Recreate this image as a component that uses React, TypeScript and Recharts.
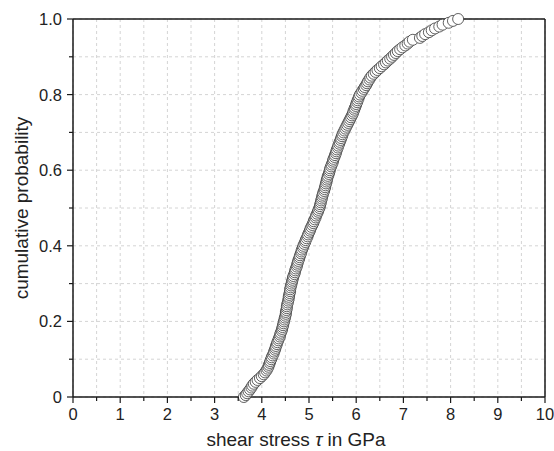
import React from 'react';
import { ScatterChart, Scatter, XAxis, YAxis, CartesianGrid, ReferenceLine } from 'recharts';

// sorted shear stress values (GPa)
const shearStress = [
  3.62, 3.66, 3.69, 3.72, 3.75, 3.78, 3.80, 3.83, 3.87, 3.91, 3.96,
  4.00, 4.04, 4.07, 4.10, 4.12, 4.14, 4.15, 4.17, 4.18, 4.20,
  4.21, 4.23, 4.25, 4.26, 4.28, 4.29, 4.30, 4.32, 4.33, 4.35,
  4.36, 4.38, 4.39, 4.40, 4.42, 4.43, 4.44, 4.45, 4.46, 4.47,
  4.48, 4.49, 4.50, 4.51, 4.51, 4.52, 4.53, 4.53, 4.54, 4.55,
  4.56, 4.57, 4.57, 4.58, 4.59, 4.60, 4.60, 4.61, 4.62, 4.63,
  4.64, 4.65, 4.66, 4.67, 4.69, 4.70, 4.71, 4.72, 4.74, 4.75,
  4.76, 4.77, 4.79, 4.80, 4.81, 4.83, 4.84, 4.85, 4.87, 4.88,
  4.90, 4.92, 4.93, 4.95, 4.97, 4.98, 5.00, 5.02, 5.03, 5.05,
  5.07, 5.09, 5.10, 5.12, 5.14, 5.15, 5.17, 5.19, 5.20, 5.22,
  5.23, 5.24, 5.25, 5.26, 5.27, 5.28, 5.29, 5.30, 5.32, 5.33,
  5.34, 5.35, 5.36, 5.37, 5.38, 5.39, 5.40, 5.42, 5.43, 5.44,
  5.45, 5.47, 5.48, 5.50, 5.51, 5.52, 5.54, 5.55, 5.57, 5.58,
  5.59, 5.61, 5.62, 5.64, 5.65, 5.67, 5.68, 5.70, 5.71, 5.73,
  5.75, 5.77, 5.79, 5.81, 5.83, 5.85, 5.87, 5.89, 5.91, 5.93,
  5.94, 5.96, 5.97, 5.99, 6.00, 6.02, 6.03, 6.05, 6.06, 6.08,
  6.11, 6.13, 6.16, 6.18, 6.21, 6.23, 6.25, 6.28, 6.30, 6.33,
  6.37, 6.41, 6.45, 6.50, 6.54, 6.59, 6.63, 6.67, 6.72, 6.76,
  6.80, 6.84, 6.88, 6.93, 6.98, 7.04, 7.09, 7.13, 7.20, 7.35,
  7.40, 7.46, 7.54, 7.60, 7.67, 7.76, 7.83, 7.96, 8.05, 8.16,
];

const xTicks = [0, 0.5, 1, 1.5, 2, 2.5, 3, 3.5, 4, 4.5, 5, 5.5, 6, 6.5, 7, 7.5, 8, 8.5, 9, 9.5, 10];
const yTicks = [0, 0.1, 0.2, 0.3, 0.4, 0.5, 0.6, 0.7, 0.8, 0.9, 1];
const yTickLabels: Record<string, string> = { '0': '0', '0.2': '0.2', '0.4': '0.4', '0.6': '0.6', '0.8': '0.8', '1': '1.0' };

const xTitle = 'shear stress ';
const xTitleSymbol = 'τ';
const xTitleRest = ' in GPa';
const yTitle = 'cumulative probability';

const data = shearStress.map((s, i) => ({ x: s, p: i / (shearStress.length - 1) }));

const FONT = '"Liberation Sans", Arial, Helvetica, sans-serif';
const AXIS = '#1a1a1a';

const XTick = (props: any) => {
  const { x, y, payload } = props;
  const v = payload.value as number;
  const major = Math.abs(v - Math.round(v)) < 1e-6;
  return (
    <g>
      <line x1={x} x2={x} y1={y} y2={y + (major ? 6 : 4)} stroke={AXIS} strokeWidth={1.2} />
      {major && (
        <text x={x} y={y + 23} textAnchor="middle" fontSize={16.5} fontFamily={FONT} fill="#222">
          {String(Math.round(v))}
        </text>
      )}
    </g>
  );
};

const YTick = (props: any) => {
  const { x, y, payload } = props;
  const v = payload.value as number;
  const key = String(Math.round(v * 10) / 10);
  const label = yTickLabels[key];
  const major = label !== undefined;
  return (
    <g>
      <line x1={x - (major ? 6 : 4)} x2={x} y1={y} y2={y} stroke={AXIS} strokeWidth={1.2} />
      {major && (
        <text x={x - 11} y={y + 6} textAnchor="end" fontSize={16.5} fontFamily={FONT} fill="#222">
          {label}
        </text>
      )}
    </g>
  );
};

const XLabel = (props: any) => {
  const vb = props.viewBox || { x: 73, y: 397, width: 472, height: 54 };
  const cx = vb.x + vb.width / 2 - 13;
  return (
    <text x={cx} y={vb.y + 49} textAnchor="middle" fontSize={19} fontFamily={FONT} fill="#222">
      {xTitle}
      <tspan fontStyle="italic">{xTitleSymbol}</tspan>
      {xTitleRest}
    </text>
  );
};

const YLabel = (props: any) => {
  const vb = props.viewBox || { x: 0, y: 19, width: 73, height: 378 };
  const cy = vb.y + vb.height / 2;
  const cx = 28;
  return (
    <text
      x={cx}
      y={cy}
      transform={`rotate(-90, ${cx}, ${cy})`}
      textAnchor="middle"
      fontSize={19}
      fontFamily={FONT}
      fill="#222"
    >
      {yTitle}
    </text>
  );
};

const Dot = (props: any) => {
  const { cx, cy } = props;
  return <circle cx={cx} cy={cy} r={5.5} fill="#ffffff" stroke="#3a3a3a" strokeWidth={0.8} />;
};

export default function App() {
  return (
    <div style={{ position: 'absolute', left: 0, top: 0, background: '#fff' }}>
      <ScatterChart width={554} height={451} margin={{ top: 19, right: 9, bottom: 0, left: 0 }}>
        <CartesianGrid stroke="#d4d4d4" strokeDasharray="3 3" strokeWidth={1} />
        <XAxis
          type="number"
          dataKey="x"
          domain={[0, 10]}
          ticks={xTicks}
          interval={0}
          tickSize={0}
          tickMargin={0}
          tickLine={false}
          tick={XTick}
          height={54}
          axisLine={{ stroke: AXIS, strokeWidth: 1.5 }}
          label={XLabel}
        />
        <YAxis
          type="number"
          dataKey="p"
          domain={[0, 1]}
          ticks={yTicks}
          interval={0}
          tickSize={0}
          tickMargin={0}
          tickLine={false}
          tick={YTick}
          width={73}
          axisLine={{ stroke: AXIS, strokeWidth: 1.5 }}
          label={YLabel}
        />
        <ReferenceLine y={1} stroke={AXIS} strokeWidth={1.5} />
        <ReferenceLine x={10} stroke={AXIS} strokeWidth={1.5} />
        <Scatter data={data} shape={Dot} isAnimationActive={false} />
      </ScatterChart>
    </div>
  );
}
